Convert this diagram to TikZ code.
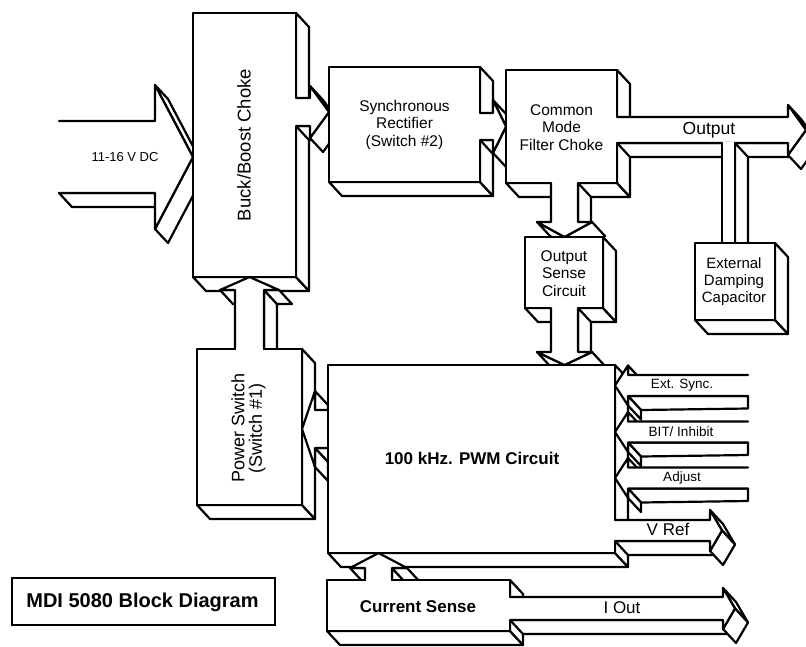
\documentclass[tikz,border=0pt]{standalone}
\usepackage{fontspec}
\setmainfont{Liberation Sans}
\newcommand\sq[4]{\path[face] ({#1},{#2}) -- ({#3},{#4}) -- ({#3+13},{#4+14}) -- ({#1+13},{#2+14}) -- cycle;}
\newcommand\cube[4]{\sq{#1}{#4}{#3}{#4}\sq{#3}{#2}{#3}{#4}\path[face] (#1,#2) rectangle (#3,#4);}
\newcommand\inarrow[1]{%
  \path[face] (628,{#1+10.5})--(748,{#1+10.5})--(748,{#1+23})--(641,{#1+24.5})--cycle;
  \sq{628}{#1-20}{628}{#1-10.5}
  \sq{628}{#1+10.5}{628}{#1+20}
  \fill[white] (748,{#1-10.5})--(628,{#1-10.5})--(628,{#1-20})--(615,{#1})--(628,{#1+20})--(628,{#1+10.5})--(748,{#1+10.5})--cycle;
  \draw[edge] (748,{#1-10.5})--(628,{#1-10.5})--(628,{#1-20})--(615,{#1})--(628,{#1+20})--(628,{#1+10.5})--(748,{#1+10.5});}
\begin{document}
\begin{tikzpicture}[x=1pt,y=-1pt,
  face/.style={fill=white,draw=black,line width=2.2pt,line join=round},
  edge/.style={draw=black,line width=2.2pt,line join=round,line cap=round},
  lbl/.style={inner sep=0pt,align=center}]
\useasboundingbox (0,0) rectangle (806,646);
\clip (0,0) rectangle (806,646);
\fill[white] (0,0) rectangle (806,646);

% input arrow
\sq{59}{193}{155}{193}
\sq{155}{85}{193}{157}
\sq{193}{157}{155}{229}
\fill[white] (59,121)--(155,121)--(155,85)--(193,157)--(155,229)--(155,193)--(59,193)--cycle;
\draw[edge] (59,121)--(155,121)--(155,85)--(193,157)--(155,229)--(155,193)--(59,193);

% buck/boost choke
\cube{193}{13}{296}{277}

% buck -> sync
\sq{296}{126}{310}{126}
\sq{310}{86}{329}{112}
\sq{329}{112}{310}{138}
\fill[white] (294.5,98)--(310,98)--(310,86)--(329,112)--(310,138)--(310,126)--(294.5,126)--cycle;
\draw[edge] (296,98)--(310,98)--(310,86)--(329,112)--(310,138)--(310,126)--(296,126);

% sync rectifier
\cube{329}{67}{480}{182}

% sync -> cmfc
\sq{480}{140}{493}{140}
\sq{493}{100}{506}{126.5}
\sq{506}{126.5}{493}{153}
\fill[white] (478.5,113)--(493,113)--(493,100)--(506,126.5)--(493,153)--(493,140)--(478.5,140)--cycle;
\draw[edge] (480,113)--(493,113)--(493,100)--(506,126.5)--(493,153)--(493,140)--(480,140);

% common mode filter choke
\cube{506}{70}{617}{183}

% output arrow
\sq{617}{143}{788}{143}
\sq{788}{105}{806}{130}
\sq{806}{130}{788}{155}
\fill[white] (615.5,117)--(788,117)--(788,105)--(806,130)--(788,155)--(788,143)--(615.5,143)--cycle;
\draw[edge] (617,117)--(788,117)--(788,105)--(806,130)--(788,155)--(788,143)--(617,143);

% capacitor bar
\sq{735}{143}{735}{243}
\fill[white] (722,141.8) rectangle (735,243);
\draw[edge] (722,143)--(722,243);
\draw[edge] (735,143)--(735,243);

% capacitor
\cube{695}{243}{775}{320}

% cmfc -> output sense
\sq{578}{183}{578}{222}
\sq{537}{222}{564.5}{237}
\sq{564.5}{237}{592}{222}
\fill[white] (551,181.5)--(551,222)--(537,222)--(564.5,237)--(592,222)--(578,222)--(578,181.5)--cycle;
\draw[edge] (551,183)--(551,222)--(537,222)--(564.5,237)--(592,222)--(578,222)--(578,183);

% output sense circuit
\cube{525}{237}{603}{308}

% output sense -> pwm
\sq{578}{308}{578}{352}
\sq{537}{352}{564.5}{365}
\sq{564.5}{365}{592}{352}
\fill[white] (551,306.5)--(551,352)--(537,352)--(564.5,365)--(592,352)--(578,352)--(578,306.5)--cycle;
\draw[edge] (551,308)--(551,352)--(537,352)--(564.5,365)--(592,352)--(578,352)--(578,308);

% power switch -> buck
\sq{264}{290}{264}{349}
\sq{220}{290}{235}{290}
\sq{264}{290}{279}{290}
\fill[white] (235,350.5)--(235,290)--(220,290)--(249.5,277)--(279,290)--(264,290)--(264,350.5)--cycle;
\draw[edge] (235,349)--(235,290)--(220,290)--(249.5,277)--(279,290)--(264,290)--(264,349);

% power switch
\cube{197}{349}{302}{505}
\fill[white] (236.2,347.5) rectangle (262.8,350.8);

% pwm -> power switch
\sq{315}{448}{328}{448}
\sq{315}{391}{315}{410}
\sq{315}{448}{315}{467}
\fill[white] (328,410)--(315,410)--(315,391)--(302,429)--(315,467)--(315,448)--(328,448)--cycle;
\draw[edge] (328,410)--(315,410)--(315,391)--(302,429)--(315,467)--(315,448)--(328,448);

% pwm circuit
\cube{328}{365}{615}{553}

% inputs on the right
\inarrow{385.5}
\inarrow{432}
\inarrow{478}

% V Ref
\sq{615}{541}{710}{541}
\sq{710}{510}{722}{530.5}
\sq{722}{530.5}{710}{551}
\fill[white] (613.5,520)--(710,520)--(710,510)--(722,530.5)--(710,551)--(710,541)--(613.5,541)--cycle;
\draw[edge] (615,520)--(710,520)--(710,510)--(722,530.5)--(710,551)--(710,541)--(615,541);

% current sense -> pwm
\sq{392}{568}{392}{580}
\sq{350}{568}{365}{568}
\sq{392}{568}{407}{568}
\fill[white] (365,581)--(365,568)--(350,568)--(378.5,553)--(407,568)--(392,568)--(392,581)--cycle;
\draw[edge] (365,580)--(365,568)--(350,568)--(378.5,553)--(407,568)--(392,568)--(392,580);

% current sense
\cube{327}{580}{510}{631}
\fill[white] (366.2,578.5) rectangle (390.8,581.6);

% I Out
\sq{510}{620}{723}{620}
\sq{723}{588}{735}{608.5}
\sq{735}{608.5}{723}{629}
\fill[white] (508.5,597)--(723,597)--(723,588)--(735,608.5)--(723,629)--(723,620)--(508.5,620)--cycle;
\draw[edge] (510,597)--(723,597)--(723,588)--(735,608.5)--(723,629)--(723,620)--(510,620);

% title box
\draw[line width=2pt] (12,578) rectangle (275,625);

% labels
\node[lbl,font=\fontsize{13}{15}\selectfont] (vin) at (125,157) {11-16 V DC};
\node[lbl,rotate=90,font=\fontsize{18.5}{21}\selectfont] (buck) at (244,145) {Buck/Boost Choke};
\node[lbl,font=\fontsize{15.5}{17.5}\selectfont] (sync) at (404.5,124.5) {Synchronous\\Rectifier\\(Switch \#2)};
\node[lbl,font=\fontsize{15.5}{17.5}\selectfont] (cmfc) at (561.5,127.5) {Common\\Mode\\Filter Choke};
\node[lbl,font=\fontsize{17.5}{20}\selectfont] (out) at (709,130) {Output};
\node[lbl,font=\fontsize{15.5}{17.5}\selectfont] (osc) at (564,273.5) {Output\\Sense\\Circuit};
\node[lbl,font=\fontsize{15}{17}\selectfont] (cap) at (734,282) {External\\Damping\\Capacitor};
\node[lbl,rotate=90,font=\fontsize{18}{17.5}\selectfont] (ps) at (248.5,428) {Power Switch\\(Switch \#1)};
\node[lbl,font=\bfseries\fontsize{17}{20}\selectfont] (pwm) at (472,458) {100 kHz. PWM Circuit};
\node[lbl,font=\fontsize{13.5}{15}\selectfont] (ext) at (682,385.5) {Ext. Sync.};
\node[lbl,font=\fontsize{13.5}{15}\selectfont] (bit) at (681,432) {BIT/ Inhibit};
\node[lbl,font=\fontsize{13.5}{15}\selectfont] (adj) at (682,478) {Adjust};
\node[lbl,font=\fontsize{17}{20}\selectfont] (vref) at (668,529) {V Ref};
\node[lbl,font=\bfseries\fontsize{17}{20}\selectfont] (cs) at (418,607) {Current Sense};
\node[lbl,font=\fontsize{17}{20}\selectfont] (iout) at (622,608) {I Out};
\node[lbl,font=\bfseries\fontsize{20}{24}\selectfont] (title) at (142.5,602) {MDI 5080 Block Diagram};
\end{tikzpicture}
\end{document}
